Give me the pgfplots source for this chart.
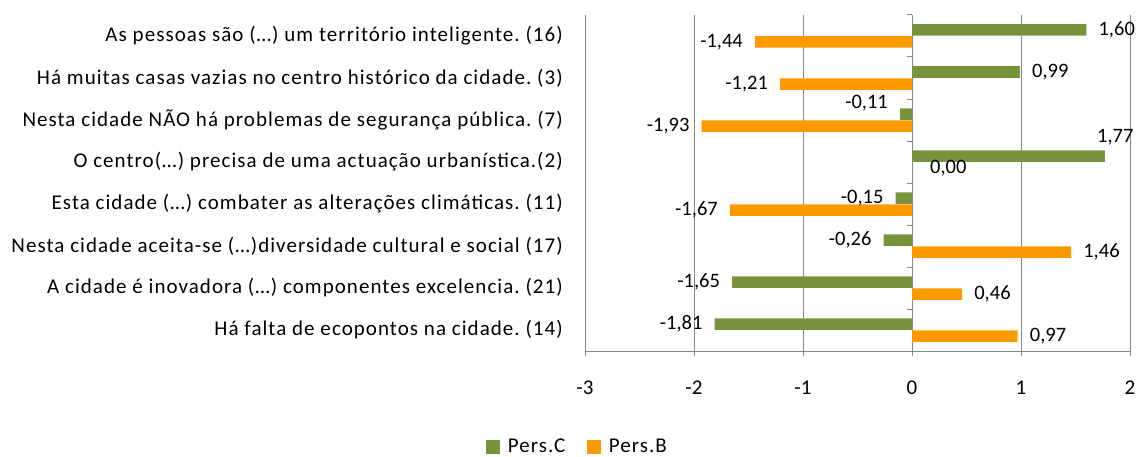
\documentclass[border=0pt]{standalone}
\usepackage{fontspec}
\setmainfont{Carlito}
\newfontfamily\lbl[LetterSpace=5]{Carlito}
\usepackage{pgfplots}
\pgfplotsset{compat=1.18}
\usepackage{pgfplotstable}
\definecolor{cgreen}{HTML}{77933C}
\definecolor{corange}{HTML}{FF9900}
\definecolor{cgrid}{HTML}{868686}

\pgfplotstableread{
y x dx dy
8 1.60 0 0
7 0.99 0 0
6 -0.11 0 11
5 1.77 -20 19
4 -0.15 0 0
3 -0.26 0 0
2 -1.65 0 0
1 -1.81 0 0
}\dataC
\pgfplotstableread{
y x dx dy
8 -1.44 0 0
7 -1.21 0 0
6 -1.93 0 0
5 0.00 6 0
4 -1.67 0 0
3 1.46 0 0
2 0.46 0 0
1 0.97 0 0
}\dataB

\begin{document}
\frenchspacing
\fontsize{21}{25}\selectfont
\begin{tikzpicture}
\path[use as bounding box] (0pt,0pt) rectangle (1140pt,-457pt);
\begin{axis}[
  at={(585pt,-351pt)}, anchor=south west,
  scale only axis, width=545pt, height=336pt,
  xbar, bar width=11.5pt,
  xmin=-3, xmax=2, ymin=0.5, ymax=8.5,
  xtick={-3,-2,-1,0,1,2},
  ytick={1,2,3,4,5,6,7,8},
  yticklabels={
    {Há falta de ecopontos na cidade. (14)},
    {A cidade é inovadora (…) componentes excelencia. (21)},
    {Nesta cidade aceita-se (…)diversidade cultural e social (17)},
    {Esta cidade (…) combater as alterações climáticas. (11)},
    {O centro(…) precisa de uma actuação urbanística.(2)},
    {Nesta cidade NÃO há problemas de segurança pública. (7)},
    {Há muitas casas vazias no centro histórico da cidade. (3)},
    {As pessoas são (…) um território inteligente. (16)}},
  axis x line*=bottom, axis y line*=left,
  y axis line style={draw=none},
  x axis line style={cgrid, line width=1pt},
  xmajorgrids, grid style={cgrid, line width=1pt},
  tick align=outside, major tick length=5pt,
  xtick style={cgrid, line width=1pt},
  ytick style={draw=none},
  /pgf/number format/assume math mode=true,
  xticklabel style={anchor=base, inner sep=0pt, yshift=-38pt},
  yticklabel style={anchor=east, inner sep=0pt, xshift=-17pt, font=\lbl\fontsize{21}{25}\selectfont},
  legend style={at={(-0.0135,-0.286)}, anchor=center, draw=none, fill=none, legend columns=2, inner sep=0pt,
    font=\lbl\fontsize{21}{25}\selectfont,
    /tikz/every odd column/.append style={column sep=6pt},
    /tikz/every even column/.append style={column sep=20pt}},
]
\addplot[fill=cgreen, draw=none, bar shift=6pt,
  point meta=x,
  visualization depends on={\thisrow{dx}\as\dx},
  visualization depends on={\thisrow{dy}\as\dy},
  nodes near coords={\pgfmathprintnumber[fixed, fixed zerofill, precision=2, use comma, assume math mode=true]{\pgfplotspointmeta}},
  nodes near coords align=horizontal,
  every node near coord/.append style={xshift=\dx pt, yshift=\dy pt, inner xsep=12pt, inner ysep=0pt, text=black, fill=none, draw=none, font=\fontsize{20.5}{24}\selectfont},
  legend image code/.code={\fill[cgreen] (0pt,-7pt) rectangle (13.5pt,7pt);}]
  table[x=x, y=y]{\dataC};
\addlegendentry{Pers.C}
\addplot[fill=corange, draw=none, bar shift=-6pt,
  point meta=x,
  visualization depends on={\thisrow{dx}\as\dx},
  visualization depends on={\thisrow{dy}\as\dy},
  nodes near coords={\pgfmathprintnumber[fixed, fixed zerofill, precision=2, use comma, assume math mode=true]{\pgfplotspointmeta}},
  nodes near coords align=horizontal,
  every node near coord/.append style={xshift=\dx pt, yshift=\dy pt, inner xsep=12pt, inner ysep=0pt, text=black, fill=none, draw=none, font=\fontsize{20.5}{24}\selectfont},
  legend image code/.code={\fill[corange] (0pt,-7pt) rectangle (13.5pt,7pt);}]
  table[x=x, y=y]{\dataB};
\addlegendentry{Pers.B}
\pgfplotsinvokeforeach{0.5,1.5,2.5,3.5,4.5,5.5,6.5,7.5,8.5}{
  \draw[cgrid, line width=1pt] (axis cs:0,#1) -- ++(-5pt,0pt);
}
\end{axis}
\end{tikzpicture}
\end{document}
